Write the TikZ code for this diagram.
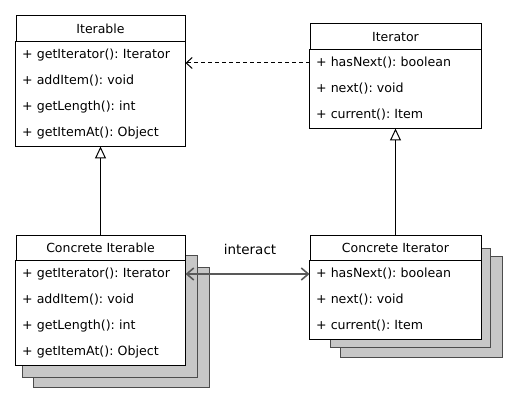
\documentclass[tikz,border=0pt]{standalone}
\usepackage{fontspec}
\setmainfont{DejaVu Sans}
\usetikzlibrary{arrows.meta}
\frenchspacing

\tikzset{
  head/.style={draw, fill=white, minimum width=#1, minimum height=26pt, inner sep=0pt, font=\fontsize{12.5}{14}\selectfont},
  member/.style={fill=white, text width=#1, align=left, inner xsep=6pt, inner ysep=0pt, minimum height=26pt, font=\fontsize{12.6}{14}\selectfont},
  shadowbox/.style={draw=black!70, fill=black!22},
  inherit/.style={-{Triangle[open,length=12pt,width=11pt]}},
  depend/.style={dashed, dash pattern=on 4pt off 3pt, -{Straight Barb[length=6pt,width=11pt]}},
  interact/.style={draw=black!65, line width=1.6pt, {Straight Barb[length=7pt,width=12pt]}-{Straight Barb[length=7pt,width=12pt]}}
}

\begin{document}
\begin{tikzpicture}[x=1pt,y=-1pt,line width=1pt]
\useasboundingbox (0,0) rectangle (516,403);

% stacked copies behind the concrete classes
\draw[shadowbox] (33,267) rectangle (209,387);
\draw[shadowbox] (22,255) rectangle (197,377);
\draw[shadowbox] (340,256) rectangle (502,357);
\draw[shadowbox] (330,248) rectangle (490,347);

% Iterable
\node[head=169pt] (Iterable) at (100.5,29) {Iterable};
\node[member=157pt] (IGet) at (100.5,55) {+ getIterator(): Iterator};
\node[member=157pt] (IAdd) at (100.5,81) {+ addItem(): void};
\node[member=157pt] (ILen) at (100.5,107) {+ getLength(): int};
\node[member=157pt] (IAt) at (100.5,133) {+ getItemAt(): Object};
\draw (IGet.north west) rectangle (IAt.south east);

% Iterator
\node[head=171pt] (Iterator) at (395.5,37) {Iterator};
\node[member=159pt] (ItHas) at (395.5,63) {+ hasNext(): boolean};
\node[member=159pt] (ItNext) at (395.5,89) {+ next(): void};
\node[member=159pt] (ItCur) at (395.5,115) {+ current(): Item};
\draw (ItHas.north west) rectangle (ItCur.south east);

% Concrete Iterable
\node[head=169pt] (CIterable) at (100.5,248) {Concrete Iterable};
\node[member=157pt] (CIGet) at (100.5,274) {+ getIterator(): Iterator};
\node[member=157pt] (CIAdd) at (100.5,300) {+ addItem(): void};
\node[member=157pt] (CILen) at (100.5,326) {+ getLength(): int};
\node[member=157pt] (CIAt) at (100.5,352) {+ getItemAt(): Object};
\draw (CIGet.north west) rectangle (CIAt.south east);

% Concrete Iterator
\node[head=171pt] (CIterator) at (395.5,248) {Concrete Iterator};
\node[member=159pt] (CItHas) at (395.5,274) {+ hasNext(): boolean};
\node[member=159pt] (CItNext) at (395.5,300) {+ next(): void};
\node[member=159pt] (CItCur) at (395.5,326) {+ current(): Item};
\draw (CItHas.north west) rectangle (CItCur.south east);

% connectors
\draw[depend] (ItHas.west) -- (ItHas.west -| IGet.east);
\draw[inherit] (CIterable.north) -- (IAt.south);
\draw[inherit] (CIterator.north) -- (ItCur.south);
\draw[interact] (CIGet.east) -- (CItHas.west);
\node[font=\fontsize{13.5}{16}\selectfont] (Interact) at (250,249) {interact};
\end{tikzpicture}
\end{document}
